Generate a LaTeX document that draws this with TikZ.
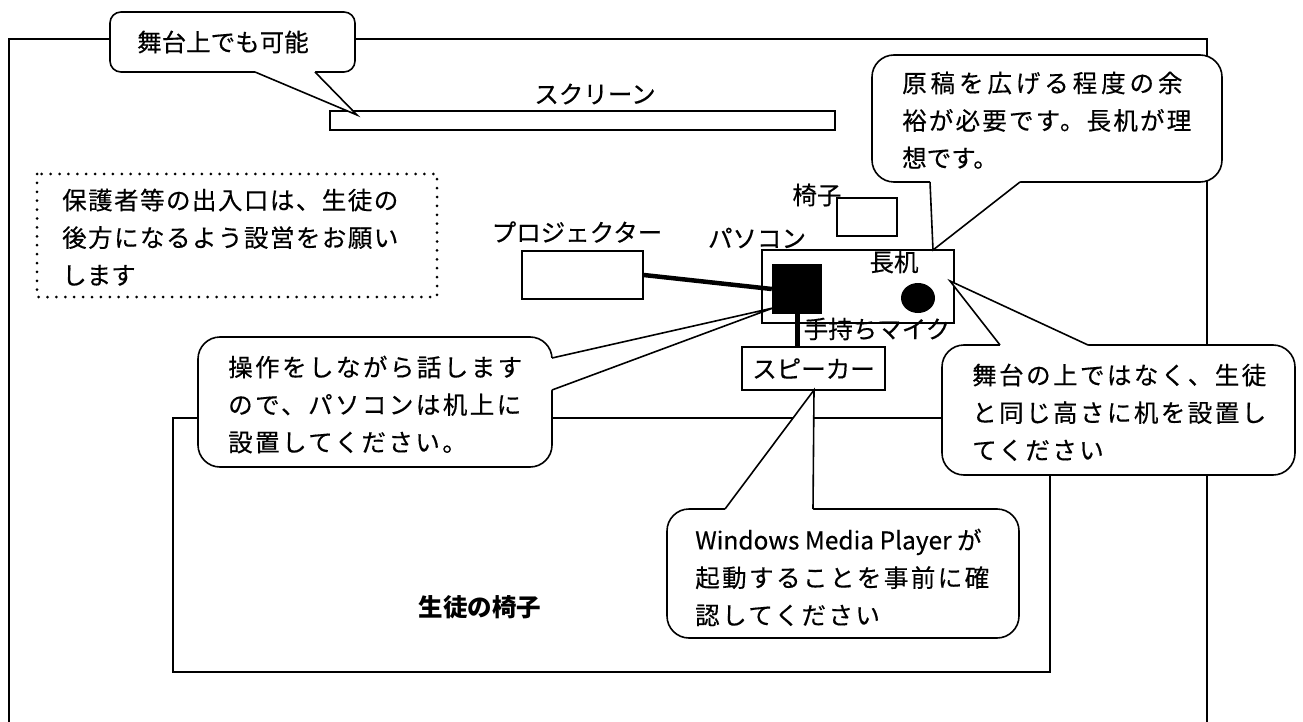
\documentclass[tikz,border=0pt]{standalone}
\usepackage{fontspec}
\setmainfont{Noto Sans CJK JP}[UprightFeatures={FakeBold=0.4}]
\usetikzlibrary{calc,shapes.geometric}
\newcommand{\lsp}[2]{{\addfontfeature{LetterSpace=#1}#2}}
\begin{document}
\begin{tikzpicture}[x=1pt,y=-1pt,
  lbl/.style={inner sep=0pt, font=\fontsize{24.5}{37.5}\selectfont},
  txt/.style={inner sep=0pt, align=left, anchor=north west, font=\fontsize{24.5}{37.5}\selectfont},
  box/.style={draw, line width=1.5pt, inner sep=0pt, font=\fontsize{24.5}{37.5}\selectfont},
  bubble/.style={draw, fill=white, line width=1.6pt},
  wedgeline/.style={line width=1.6pt, line join=miter},
  cable/.style={line width=5pt},
]
\useasboundingbox (0,0) rectangle (1303,722);
% outer frame (open at the bottom)
\draw[line width=1.5pt] (9,722) -- (9,39) -- (1207,39) -- (1207,722);
% student seating area
\draw[line width=2.8pt] (173,418) rectangle (1050,672);
\node[lbl, font=\fontsize{24.5}{37.5}\selectfont\bfseries] (seats) at (480,607) {生徒の椅子};
% screen
\node[box, minimum width=505pt, minimum height=19pt] (screen) at (582.5,120.5) {};
\node[lbl] (screenlbl) at (595,94) {スクリーン};
% entrance note (dotted)
\draw[line width=3pt, line cap=round, dash pattern=on 0pt off 8.9pt] (37,174) rectangle (437,297);
\node[txt] (entr) at (62,188.5) {\lsp{6}{保護者等の出入口は、生徒の}\\\lsp{6}{後方になるよう設営をお願い}\\します};
% chair
\node[box, minimum width=60pt, minimum height=38pt] (chair) at (867,217) {};
\node[lbl] (chairlbl) at (817,195) {椅子};
% projector
\node[box, minimum width=121pt, minimum height=48pt] (proj) at (582.5,275) {};
\node[lbl] (projlbl) at (577,232) {プロジェクター};
% desk
\node[box, minimum width=192pt, minimum height=73pt] (desk) at (858,286.5) {};
\node[lbl] (desklbl) at (894,262) {長机};
\node[fill, ellipse, minimum width=34pt, minimum height=30pt, inner sep=0pt] (mic) at (918,298) {};
% PC
\node[fill, minimum width=50pt, minimum height=50pt, inner sep=0pt] (pc) at (797,289) {};
\node[lbl] (pclbl) at (757,238) {パソコン};
% speaker
\node[box, minimum width=143pt, minimum height=43pt] (spk) at (813.5,368.5) {スピーカー};
\node[lbl] (miclbl) at (877,329) {手持ちマイク};
% cables
\draw[line width=4.5pt] (proj.east) -- (pc.west);
\draw[cable] (pc.south) -- (pc.south |- spk.north);

% callout tips
\coordinate (tipA) at (357,115);
\coordinate (tipB) at (933,250);
\coordinate (tipC) at (773,308);
\coordinate (tipD) at (950,281);
\coordinate (tipE) at (814,390);

% callout A: top
\draw[bubble, rounded corners=11pt] (110,12) rectangle (355,72);
\fill[white] (255,69) -- (255,72) -- (tipA) -- (315,72) -- (315,69) -- cycle;
\draw[wedgeline] (255,72) -- (tipA) -- (315,72);
\node[lbl, anchor=west] (calA) at (137,42) {舞台上でも可能};

% callout B: right upper
\draw[bubble, rounded corners=22pt] (872,55) rectangle (1222,182);
\fill[white] (930,179) -- (930,182) -- (tipB) -- (1020,182) -- (1020,179) -- cycle;
\draw[wedgeline] (930,182) -- (tipB) -- (1020,182);
\node[txt] (calB) at (902,71.5) {\lsp{16}{原稿を広げる程度の余}\\\lsp{9}{裕が必要です。長机が理}\\想です。};

% callout C: bottom left
\draw[bubble, rounded corners=22pt] (198,337) rectangle (552,467);
\fill[white] (549,358) -- (552,358) -- (tipC) -- (552,390) -- (549,390) -- cycle;
\draw[wedgeline] (552,358) -- (tipC) -- (552,390);
\node[txt] (calC) at (228,355.5) {\lsp{10}{操作をしながら話します}\\\lsp{10}{ので、パソコンは机上に}\\\lsp{10}{設置してください。}};

% callout D: right lower
\draw[bubble, rounded corners=22pt] (942,345) rectangle (1295,475);
\fill[white] (1000,348) -- (1000,345) -- (tipD) -- (1088,345) -- (1088,348) -- cycle;
\draw[wedgeline] (1000,345) -- (tipD) -- (1088,345);
\node[txt] (calD) at (972,363.5) {\lsp{10}{舞台の上ではなく、生徒}\\\lsp{10}{と同じ高さに机を設置し}\\\lsp{10}{てください}};

% callout E: Windows Media Player
\draw[bubble, rounded corners=22pt] (667,509) rectangle (1019,638);
\fill[white] (725,512) -- (725,509) -- (tipE) -- (813,509) -- (813,512) -- cycle;
\draw[wedgeline] (725,509) -- (tipE) -- (813,509);
\node[txt] (calE) at (695,528.5) {Windows Media Player が\\\lsp{10}{起動することを事前に確}\\\lsp{10}{認してください}};
\end{tikzpicture}
\end{document}
